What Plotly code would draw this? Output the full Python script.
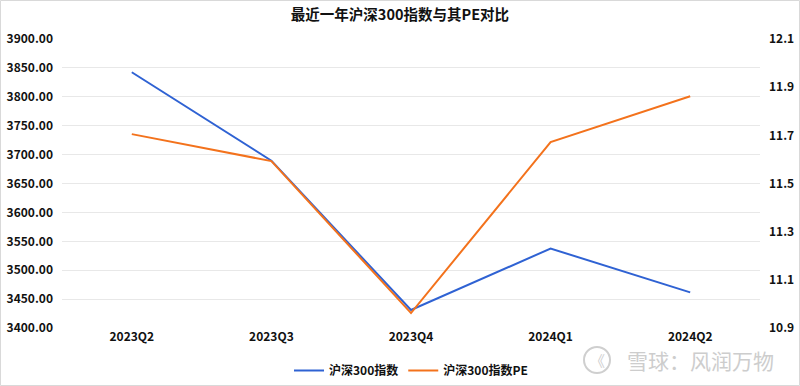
import plotly.graph_objects as go

categories = ["2023Q2", "2023Q3", "2023Q4", "2024Q1", "2024Q2"]
index_values = [3842.45, 3689.52, 3431.11, 3537.48, 3461.66]
pe_values = [11.705, 11.593, 10.962, 11.672, 11.862]
left_ticks = [3400, 3450, 3500, 3550, 3600, 3650, 3700, 3750, 3800, 3850, 3900]
right_ticks = [10.9, 11.1, 11.3, 11.5, 11.7, 11.9, 12.1]

FONT = "Noto Sans CJK SC"
BLUE = "#2F62D3"
ORANGE = "#F3721C"
TXT = "#111111"

L, R, T, B = 62, 40, 39, 58
W, H = 800, 386
PW, PH = W - L - R, H - T - B


def px_x(x):
    return (x - L) / PW


def px_y(y):
    return (T + PH - y) / PH


fig = go.Figure()
fig.add_trace(go.Scatter(x=categories, y=index_values, name="沪深300指数",
                         mode="lines", line=dict(color=BLUE, width=2), yaxis="y"))
fig.add_trace(go.Scatter(x=categories, y=pe_values, name="沪深300指数PE",
                         mode="lines", line=dict(color=ORANGE, width=2), yaxis="y2"))

tf = dict(size=12, family=FONT, color=TXT, weight="bold")

fig.update_layout(
    width=W, height=H,
    margin=dict(l=L, r=R, t=T, b=B, autoexpand=False),
    paper_bgcolor="white", plot_bgcolor="white",
    font=dict(family=FONT, size=12, color=TXT),
    title=dict(text="最近一年沪深300指数与其PE对比", x=0.5, xanchor="center",
               y=1 - 15 / H, yanchor="middle",
               font=dict(size=14.5, family=FONT, color=TXT, weight="bold")),
    showlegend=True,
    legend=dict(orientation="h", x=0.5, xanchor="center", y=px_y(356), yanchor="top",
                font=tf, traceorder="normal", itemwidth=30),
    xaxis=dict(type="category", showgrid=False, showline=False, zeroline=False,
               ticks="", tickfont=tf, range=[-0.5, 4.5], automargin=False),
    yaxis=dict(range=[3400, 3900], tickvals=left_ticks, tickformat=".2f",
               showgrid=True, gridcolor="#E8E8E8", gridwidth=1, zeroline=False,
               showline=False, ticks="", ticklabelstandoff=8, tickfont=tf, automargin=False),
    yaxis2=dict(range=[10.9, 12.1], tickvals=right_ticks, tickformat=".1f",
                overlaying="y", side="right", showgrid=False, zeroline=False,
                showline=False, ticks="", ticklabelstandoff=8, tickfont=tf, automargin=False),
)

# outer border
fig.add_shape(type="rect", xref="paper", yref="paper",
              x0=px_x(0.5), x1=px_x(W - 0.5), y0=px_y(H - 0.5), y1=px_y(0.5),
              line=dict(color="#D9D9D9", width=1), fillcolor="rgba(0,0,0,0)")

# watermark logo + text
fig.add_shape(type="circle", xref="paper", yref="paper",
              x0=px_x(584), x1=px_x(610), y0=px_y(373), y1=px_y(347),
              line=dict(color="#CFCFCF", width=2), fillcolor="rgba(0,0,0,0)")
fig.add_annotation(text="《", xref="paper", yref="paper",
                   x=px_x(597), y=px_y(360), xanchor="center", yanchor="middle",
                   showarrow=False, font=dict(size=15, family=FONT, color="#CFCFCF"))
fig.add_annotation(text="雪球：风润万物", xref="paper", yref="paper",
                   x=px_x(776), y=px_y(360), xanchor="right", yanchor="middle",
                   showarrow=False, font=dict(size=21, family=FONT, color="#CDCDCD"))

fig.write_html("out.html", config={"displayModeBar": False},
               post_script="document.body.style.margin='0';document.body.style.overflow='hidden';")
